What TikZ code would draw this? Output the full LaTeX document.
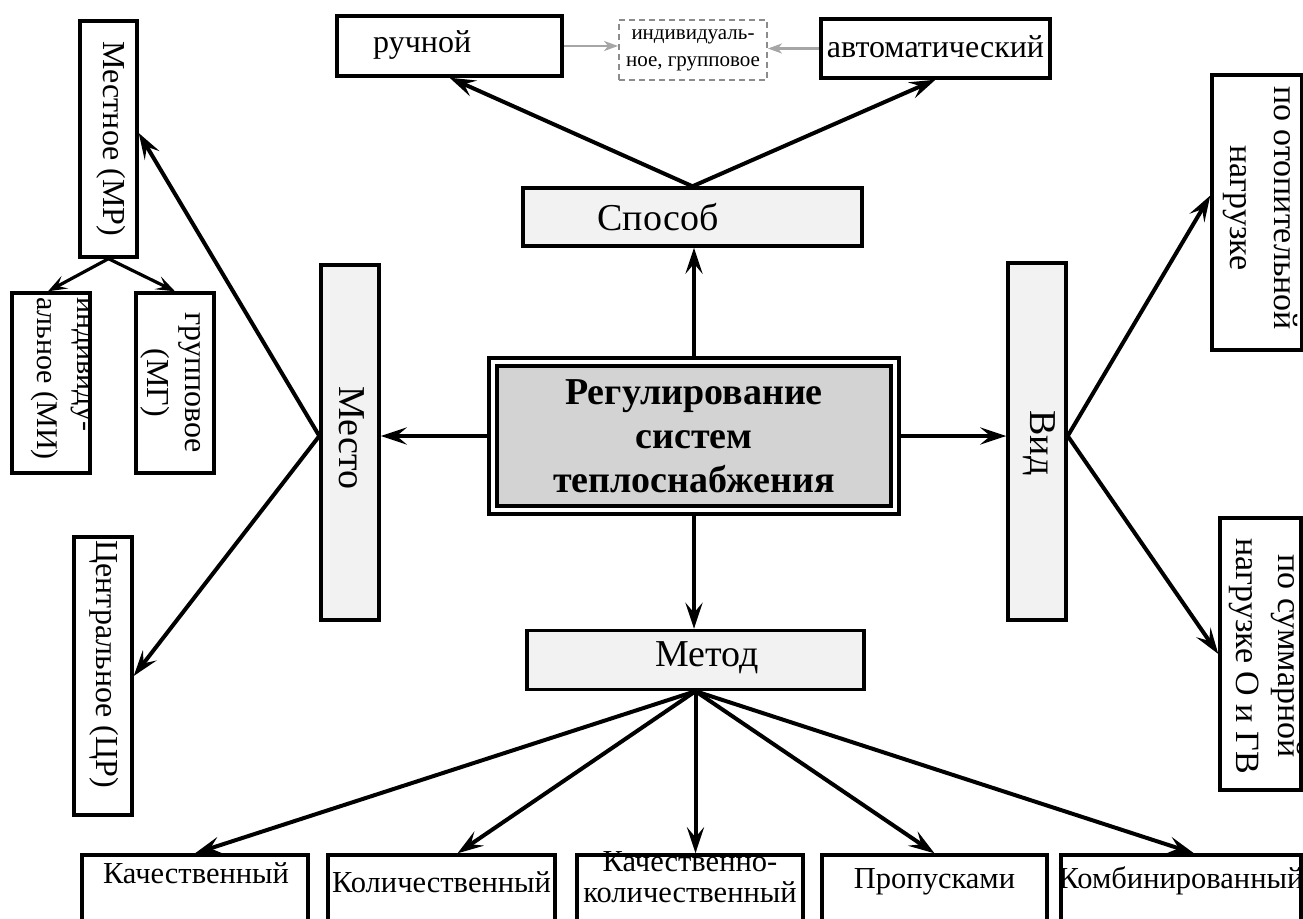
\documentclass[tikz,border=0pt]{standalone}
\usepackage{fontspec}
\setmainfont{Liberation Serif}
\usetikzlibrary{arrows.meta,calc}
\definecolor{catfill}{HTML}{F2F2F2}
\definecolor{cenfill}{HTML}{D3D3D3}
\definecolor{arrgray}{HTML}{A6A6A6}
\definecolor{dashgray}{HTML}{8C8C8C}
\begin{document}
\begin{tikzpicture}[x=1pt,y=-1pt,
  box/.style={draw, line width=3.4pt, inner sep=0pt, fill=white},
  catbox/.style={box, fill=catfill},
  arr/.style={line width=4pt, -{Stealth[length=26pt,width=17pt,inset=10pt]}},
  sarr/.style={line width=3.2pt, -{Stealth[length=19pt,width=14pt,inset=8pt]}},
  garr/.style={line width=2.4pt, draw=arrgray, -{Stealth[length=14pt,width=10pt,inset=4pt]}},
  txt/.style={inner sep=1pt, align=center},
  fA/.style={font=\fontsize{38pt}{44pt}\selectfont},
  fB/.style={font=\fontsize{32pt}{40pt}\selectfont},
  fC/.style={font=\fontsize{30.5pt}{31pt}\selectfont},
  fD/.style={font=\fontsize{32pt}{38pt}\selectfont},
  fE/.style={font=\fontsize{21pt}{27pt}\selectfont},
  fF/.style={font=\bfseries\fontsize{38pt}{44pt}\selectfont},
  vert/.style={rotate=-90}
]
\useasboundingbox (0,0) rectangle (1303,918);

% top row
\node[box, minimum width=225pt, minimum height=60pt] (r) at (449.5,46) {};
\node[txt, fB, anchor=west] (rt) at (372,45) {ручной};
\node[draw=dashgray, dashed, line width=1.8pt, dash pattern=on 6pt off 4pt, minimum width=148pt, minimum height=60pt, inner sep=0pt] (d) at (693,50) {};
\node[txt, fE] (dt) at (693,50) {индивидуаль-\\ное, групповое};
\node[box, minimum width=229pt, minimum height=59pt] (a) at (935.5,48.5) {};
\node[txt, fB] (at) at (935.5,47) {автоматический};

% category boxes
\node[catbox, minimum width=339pt, minimum height=58pt] (sp) at (692.5,217) {};
\node[txt, fA] (spt) at (658,217) {Способ};
\node[catbox, minimum width=337pt, minimum height=59pt] (m) at (695.5,660) {};
\node[txt, fA] (mt) at (707,658) {Метод};
\node[catbox, minimum width=58pt, minimum height=355pt] (mesto) at (350,442.5) {};
\node[txt, fA, vert] (mestot) at (352,438) {Место};
\node[catbox, minimum width=58pt, minimum height=357pt] (vid) at (1037,441.5) {};
\node[txt, fA, vert] (vidt) at (1039,443) {Вид};

% central box
\node[draw, line width=4pt, fill=white, minimum width=410pt, minimum height=156pt, inner sep=0pt] (c) at (694,436) {};
\node[draw, line width=3.2pt, fill=cenfill, minimum width=394pt, minimum height=140pt, inner sep=0pt] (ci) at (694,436) {};
\node[txt, fF] (ct) at (694,436) {Регулирование\\систем\\теплоснабжения};

% left side
\node[box, minimum width=57pt, minimum height=236pt] (mr) at (108.5,139) {};
\node[txt, fD, vert] (mrt) at (111,139) {Местное (МР)};
\node[box, minimum width=78pt, minimum height=180pt] (mi) at (51,383) {};
\node[txt, font=\fontsize{30pt}{40pt}\selectfont, vert, align=left, anchor=north west, inner sep=0pt] (mit) at (91,297) {индивиду-\\альное (МИ)};
\node[box, minimum width=78pt, minimum height=180pt] (mg) at (175,383) {};
\node[txt, fD, vert] (mgt) at (171,383) {групповое\\(МГ)};
\node[box, minimum width=58pt, minimum height=278pt] (cr) at (103,676) {};
\node[txt, fD, vert, anchor=west] (crt) at (104,539) {Центральное (ЦР)};

% right side
\node[box, minimum width=90pt, minimum height=275pt] (po1) at (1257,212.5) {};
\node[txt, vert, font=\fontsize{34pt}{44pt}\selectfont] (po1t) at (1260,208) {по отопительной\\нагрузке};
\node[box, minimum width=81pt, minimum height=272pt] (po2) at (1260.5,654) {};
\node[txt, vert, font=\fontsize{34pt}{42pt}\selectfont] (po2t) at (1265,656) {по суммарной\\нагрузке О и ГВ};

% bottom row
\node[box, minimum width=226pt, minimum height=70pt] (b1) at (195,890) {};
\node[txt, fC] (b1t) at (196,873) {Качественный};
\node[box, minimum width=227pt, minimum height=70pt] (b2) at (441.5,890) {};
\node[txt, fC] (b2t) at (441.5,882) {Количественный};
\node[box, minimum width=226pt, minimum height=70pt] (b3) at (690,890) {};
\node[txt, fC] (b3t) at (690,877) {Качественно-\\количественный};
\node[box, minimum width=225pt, minimum height=70pt] (b4) at (934.5,890) {};
\node[txt, fC] (b4t) at (934.5,882) {Пропусками};
\node[box, minimum width=240pt, minimum height=70pt] (b5) at (1181,890) {};
\node[txt, fC] (b5t) at (1181,881) {Комбинированный};

% connectors
\draw[arr] (sp.north) -- (r.south);
\draw[arr] (sp.north) -- (a.south);
\draw[garr] (r.east) -- (r.east -| d.west);
\draw[garr] (a.west) -- (a.west -| d.east);
\draw[arr] (c.north) -- (c.north |- sp.south);
\draw[arr] (c.south) -- (c.south |- m.north);
\draw[arr] (c.west) -- (c.west -| mesto.east);
\draw[arr] (c.east) -- (c.east -| vid.west);
\draw[arr] (c.west -| mesto.west) -- ([yshift=6pt]mr.east);
\draw[arr] (c.west -| mesto.west) -- (cr.east);
\draw[arr] (c.east -| vid.east) -- ([yshift=17pt]po1.west);
\draw[arr] (c.east -| vid.east) -- (po2.west);
\draw[sarr] (mr.south) -- ([xshift=-3pt]mi.north);
\draw[sarr] (mr.south) -- (mg.north);
\draw[arr] (m.south) -- (b1.north);
\draw[arr] (m.south) -- ([xshift=16pt]b2.north);
\draw[arr] (m.south) -- (m.south |- b3.north);
\draw[arr] (m.south) -- (b4.north);
\draw[arr] (m.south) -- ([xshift=13pt]b5.north);
\end{tikzpicture}
\end{document}
